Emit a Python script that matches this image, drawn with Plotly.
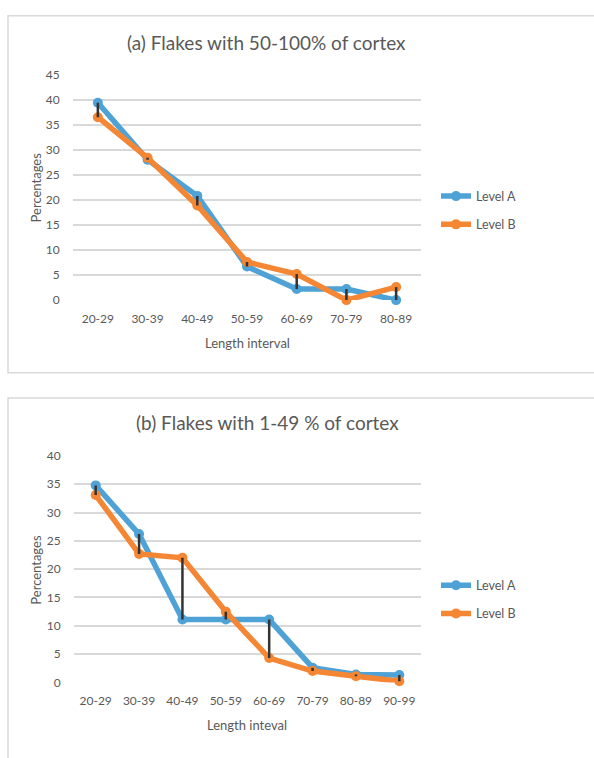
import plotly.graph_objects as go

W, H = 594, 758

cats_a = ["20-29", "30-39", "40-49", "50-59", "60-69", "70-79", "80-89"]
level_a_a = [39.4, 28.0, 20.8, 6.7, 2.2, 2.2, 0.0]
level_b_a = [36.5, 28.4, 18.9, 7.6, 5.2, 0.0, 2.6]

cats_b = ["20-29", "30-39", "40-49", "50-59", "60-69", "70-79", "80-89", "90-99"]
level_a_b = [34.8, 26.2, 11.1, 11.1, 11.1, 2.6, 1.4, 1.3]
level_b_b = [33.1, 22.7, 22.0, 12.5, 4.3, 2.0, 1.1, 0.2]

yticks_a = [0, 5, 10, 15, 20, 25, 30, 35, 40, 45]
yticks_b = [0, 5, 10, 15, 20, 25, 30, 35, 40]

BLUE = "#4EA2D6"
ORANGE = "#F58634"
GREY = "#595959"
GRID = "#D9D9D9"
FONT = "Lato"

def px(x):
    return x / W

def py(y):
    return 1 - y / H

def hilo(cats, a, b):
    xs, ys = [], []
    for c, va, vb in zip(cats, a, b):
        xs += [c, c, None]
        ys += [va, vb, None]
    return xs, ys

fig = go.Figure()

for (cats, a, b, xa, ya, leg) in [
    (cats_a, level_a_a, level_b_a, "x", "y", "legend"),
    (cats_b, level_a_b, level_b_b, "x2", "y2", "legend2"),
]:
    fig.add_trace(go.Scatter(x=cats, y=a, name="Level A", mode="lines+markers",
                             line=dict(color=BLUE, width=5.5), marker=dict(color=BLUE, size=10),
                             xaxis=xa, yaxis=ya, legend=leg, legendgroup="A", cliponaxis=False))
    fig.add_trace(go.Scatter(x=cats, y=b, name="Level B", mode="lines+markers",
                             line=dict(color=ORANGE, width=5.5), marker=dict(color=ORANGE, size=10),
                             xaxis=xa, yaxis=ya, legend=leg, legendgroup="B", cliponaxis=False))
    hx, hy = hilo(cats, a, b)
    fig.add_trace(go.Scatter(x=hx, y=hy, mode="lines", line=dict(color="#333333", width=2.5),
                             showlegend=False, xaxis=xa, yaxis=ya, hoverinfo="skip", cliponaxis=False))

axis_common = dict(showline=False, zeroline=False, tickfont=dict(family=FONT, size=12, color=GREY))

fig.update_layout(
    width=W, height=H, margin=dict(l=0, r=0, t=0, b=0),
    paper_bgcolor="white", plot_bgcolor="white",
    font=dict(family=FONT, color=GREY),
    xaxis=dict(domain=[px(73), px(421)], anchor="y", type="category", range=[-0.5, 6.5],
               showgrid=False, ticks="outside", ticklen=7, tickcolor="rgba(0,0,0,0)", **axis_common),
    yaxis=dict(domain=[py(298), py(68)], anchor="x", range=[0, 45], tickvals=yticks_a,
               showgrid=True, gridcolor=GRID, gridwidth=2, ticks="outside", ticklen=10,
               tickcolor="rgba(0,0,0,0)", **axis_common),
    xaxis2=dict(domain=[px(74), px(421)], anchor="y2", type="category", range=[-0.5, 7.5],
                showgrid=False, ticks="outside", ticklen=7, tickcolor="rgba(0,0,0,0)", **axis_common),
    yaxis2=dict(domain=[py(688), py(457)], anchor="x2", range=[0, 40], tickvals=yticks_b,
                showgrid=True, gridcolor=GRID, gridwidth=2, ticks="outside", ticklen=10,
                tickcolor="rgba(0,0,0,0)", **axis_common),
    legend=dict(x=px(436), y=py(177), xanchor="left", yanchor="top", tracegroupgap=9,
                font=dict(family=FONT, size=12.5, color=GREY), bgcolor="rgba(0,0,0,0)"),
    legend2=dict(x=px(436), y=py(574), xanchor="left", yanchor="top", tracegroupgap=9,
                 font=dict(family=FONT, size=12.5, color=GREY), bgcolor="rgba(0,0,0,0)"),
    showlegend=True,
)

shapes = [
    dict(type="rect", xref="paper", yref="paper", x0=px(8), x1=1.05, y0=py(372), y1=py(8),
         line=dict(color=GRID, width=1.5), fillcolor="rgba(0,0,0,0)", layer="below"),
    dict(type="rect", xref="paper", yref="paper", x0=px(8), x1=1.05, y0=-0.05, y1=py(398),
         line=dict(color=GRID, width=1.5), fillcolor="rgba(0,0,0,0)", layer="below"),
]
fig.update_layout(shapes=shapes)

ann = [
    dict(text="(a) Flakes with 50-100% of cortex", x=px(266), y=py(35), size=19),
    dict(text="(b) Flakes with 1-49 % of cortex", x=px(267), y=py(423), size=19),
    dict(text="Length interval", x=px(247), y=py(342), size=13),
    dict(text="Length inteval", x=px(247), y=py(731), size=13),
]
annotations = []
for a in ann:
    annotations.append(dict(text=a["text"], x=a["x"], y=a["y"], xref="paper", yref="paper",
                            xanchor="center", yanchor="middle", showarrow=False,
                            font=dict(family=FONT, size=a["size"], color=GREY)))
for yy in (183, 573):
    annotations.append(dict(text="Percentages", x=px(36), y=py(yy), xref="paper", yref="paper",
                            xanchor="center", yanchor="middle", showarrow=False, textangle=-90,
                            font=dict(family=FONT, size=13, color=GREY)))
fig.update_layout(annotations=annotations)

fig.write_html("out.html", config={"displayModeBar": False},
               post_script="document.body.style.margin='0';document.body.style.overflow='hidden';")
